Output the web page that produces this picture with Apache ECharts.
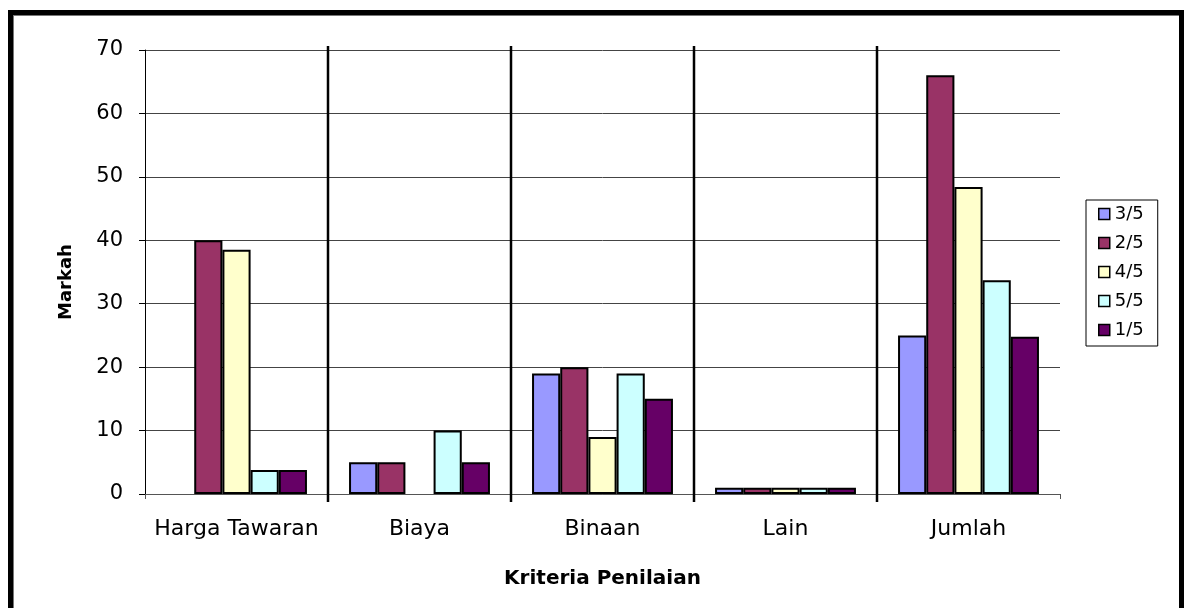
<!DOCTYPE html>
<html>
<head>
<meta charset="utf-8">
<script src="https://cdn.jsdelivr.net/npm/echarts@6/dist/echarts.min.js"></script>
<style>
html,body{margin:0;padding:0;background:#fff;overflow:hidden;}
#chart{position:absolute;left:0;top:0;width:1184px;height:608px;}
#frame{position:absolute;left:8px;top:10px;width:1166px;height:620px;border:5px solid #000;box-shadow:inset 1px 1px 0 #777;pointer-events:none;}
</style>
</head>
<body>
<div id="chart"></div>
<div id="frame"></div>
<script>
const categories = ['Harga Tawaran', 'Biaya', 'Binaan', 'Lain', 'Jumlah'];
const seriesNames = ['3/5', '2/5', '4/5', '5/5', '1/5'];
const s35 = [null, 5, 19, 1, 25];
const s25 = [40, 5, 20, 1, 66];
const s45 = [38.5, null, 9, 1, 48.4];
const s55 = [3.8, 10, 19, 1, 33.7];
const s15 = [3.8, 5, 15, 1, 24.8];
const yTicks = [0, 10, 20, 30, 40, 50, 60, 70];
const separatorIdx = [1, 2, 3, 4];

const values = [s35, s25, s45, s55, s15];
const colors = ['#9999FF', '#993366', '#FFFFCC', '#CCFFFF', '#660066'];
const font = 'DejaVu Sans, Verdana, sans-serif';

const chart = echarts.init(document.getElementById('chart'));
const barSeries = seriesNames.map((n, i) => ({
  name: n,
  type: 'bar',
  data: values[i],
  barGap: '0%',
  barCategoryGap: '23%',
  itemStyle: { color: colors[i], borderColor: '#000', borderWidth: 2 }
}));
barSeries.push({
  type: 'custom',
  name: 'sep',
  silent: true,
  z: 1,
  data: separatorIdx.map(i => [i, 0]),
  encode: { x: 0, y: 1 },
  renderItem: function (params, api) {
    const idx = api.value(0);
    const half = api.size([1, 0])[0] / 2;
    const top = api.coord([idx, yTicks[yTicks.length - 1]]);
    const bot = api.coord([idx, 0]);
    const x = Math.round(top[0] - half);
    return {
      type: 'line',
      shape: { x1: x, y1: top[1] - 4, x2: x, y2: bot[1] + 8 },
      style: { stroke: '#000', lineWidth: 2.5 }
    };
  }
});

chart.setOption({
  animation: false,
  textStyle: { fontFamily: font },
  grid: { left: 145, right: 124, top: 50, bottom: 114 },
  legend: {
    orient: 'vertical',
    left: 1086, top: 200,
    padding: [5, 14, 7, 12],
    itemGap: 11,
    itemWidth: 11, itemHeight: 11,
    borderColor: '#000', borderWidth: 1,
    icon: 'rect',
    textStyle: { fontFamily: font, fontSize: 18, lineHeight: 18, color: '#000' },
    itemStyle: { borderColor: '#000', borderWidth: 1.5 },
    data: seriesNames
  },
  xAxis: {
    type: 'category',
    data: categories,
    name: 'Kriteria Penilaian',
    nameLocation: 'middle',
    nameGap: 75,
    nameTextStyle: { fontFamily: font, fontSize: 20, fontWeight: 'bold', color: '#000' },
    axisLine: { lineStyle: { color: '#555', width: 1 } },
    axisTick: { show: true, length: 5, lineStyle: { color: '#555' } },
    axisLabel: { interval: 0, fontSize: 22, color: '#000', margin: 24, fontFamily: font },
    splitLine: { show: false }
  },
  yAxis: {
    type: 'value',
    min: yTicks[0], max: yTicks[yTicks.length - 1], interval: 10,
    name: 'Markah',
    nameLocation: 'middle',
    nameGap: 70,
    nameRotate: 90,
    nameTextStyle: { fontFamily: font, fontSize: 18, fontWeight: 'bold', color: '#000', padding: [0, 20, 0, 0] },
    axisLine: { show: true, lineStyle: { color: '#000', width: 1 } },
    axisTick: { show: true, length: 6, lineStyle: { color: '#000' } },
    axisLabel: { fontSize: 21, color: '#000', margin: 22, fontFamily: font },
    splitLine: { show: true, lineStyle: { color: '#444', width: 1 } }
  },
  series: barSeries
});
</script>
</body>
</html>
